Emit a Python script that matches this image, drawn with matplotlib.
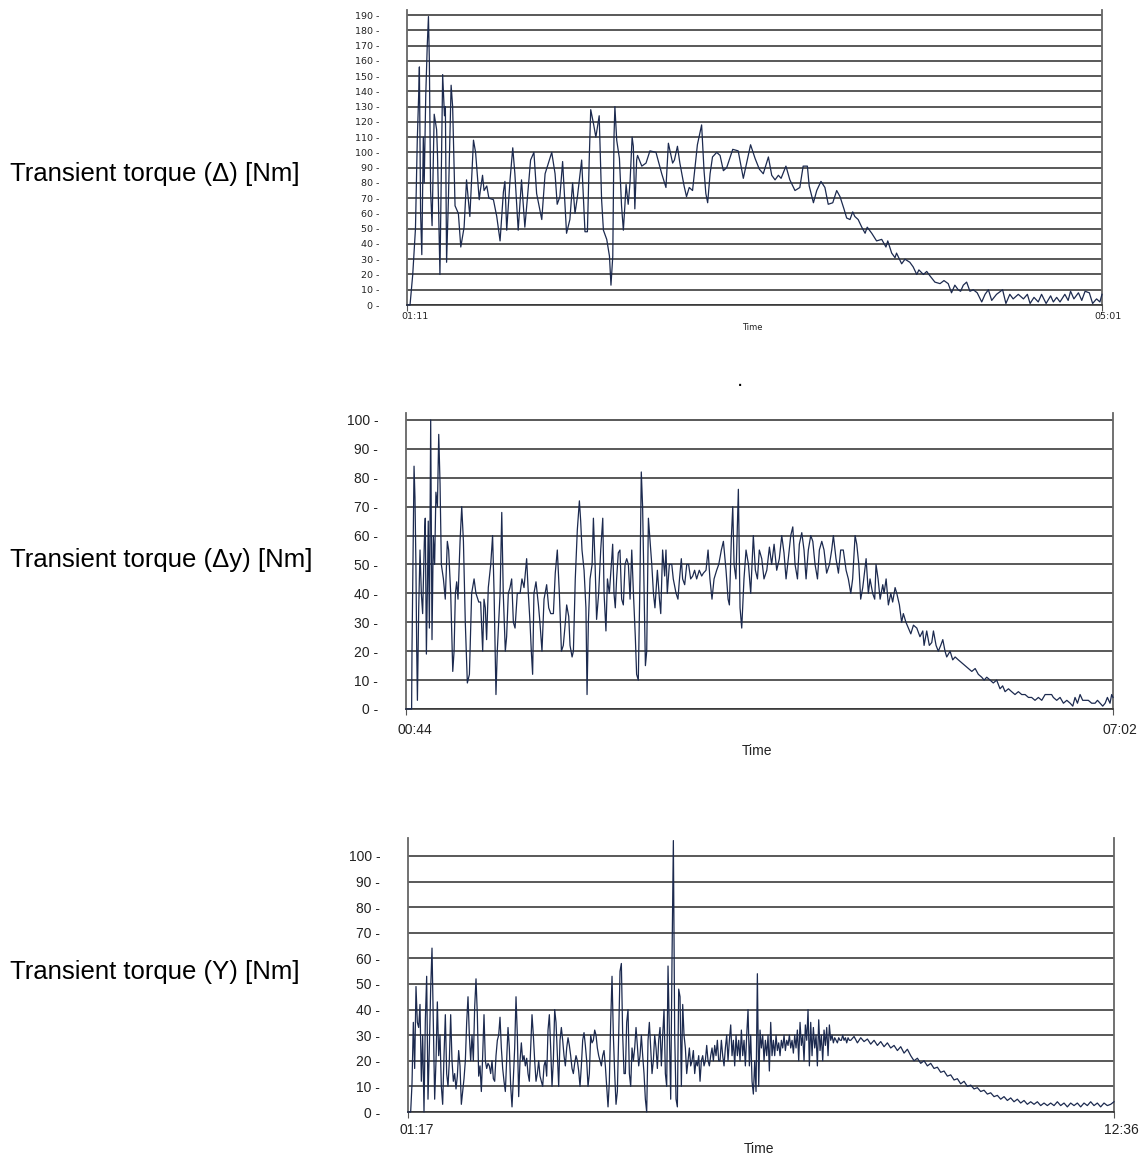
import numpy as np
import matplotlib.pyplot as plt

# ---- data (time in s, torque in Nm) ----
p1_t = [71.0, 72.0, 72.9, 73.8, 74.4, 74.9, 75.1, 75.5, 75.9, 76.4,
        76.7, 77.2, 77.7, 78.1, 78.4, 78.8, 79.3, 80.0, 80.8, 81.1,
        81.9, 82.8, 83.4, 83.7, 84.1, 84.7, 85.6, 86.1, 86.9, 88.0,
        88.8, 89.9, 90.7, 91.3, 91.8, 93.0, 93.7, 94.9, 95.2, 96.0,
        96.5, 97.4, 98.1, 99.6, 100.7, 101.8, 102.9, 103.4, 104.0, 105.1,
        106.0, 106.7, 107.8, 108.9, 110.0, 110.8, 111.9, 113.0, 113.9, 115.6,
        116.7, 117.8, 118.9, 120.0, 120.7, 121.6, 122.5, 123.8, 124.9, 125.8,
        126.6, 127.4, 128.8, 129.9, 130.7, 131.3, 131.8, 132.7, 133.5, 134.6,
        135.4, 136.0, 137.1, 138.0, 138.5, 139.1, 139.5, 139.8, 140.4, 141.3,
        142.0, 142.6, 143.1, 143.5, 144.2, 144.8, 145.5, 145.9, 146.4, 147.0,
        147.3, 148.7, 150.1, 151.4, 153.4, 155.3, 156.7, 157.5, 158.9, 159.5,
        160.5, 161.3, 162.7, 163.5, 164.4, 165.5, 167.1, 168.5, 169.3, 169.9,
        170.5, 171.3, 172.1, 173.5, 174.6,
        175.7, 176.8, 178.8, 180.6, 182.3, 183.6, 184.7, 186.2, 187.6, 188.9,
        190.6, 191.7, 192.8, 193.9, 194.8, 196.4, 197.7, 199.4, 201.0, 202.1,
        203.5, 204.1, 205.5, 206.6, 208.0, 209.3, 210.4, 211.9, 213.2, 214.3,
        215.6, 216.5, 217.6, 218.5, 219.2, 220.3, 221.5, 222.6, 223.3, 224.8,
        226.4, 228.1, 229.5, 230.1, 231.4, 232.5, 233.0, 234.7, 235.8, 237.4,
        238.5, 239.7, 240.4, 241.9, 243.0, 244.1, 245.7, 247.4, 248.7, 250.1,
        251.2, 252.3, 253.4, 254.2, 255.1, 256.2, 257.3, 258.4, 259.7, 261.2,
        262.3, 263.4, 264.5, 266.1, 268.1, 269.2, 270.5, 271.6, 273.3, 275.0,
        276.3, 277.2, 278.5, 279.9, 281.0, 282.5, 284.0, 284.9, 286.0, 287.1,
        288.7, 289.8, 290.6, 291.7, 293.2, 294.3, 295.4, 296.8, 297.9, 299.2,
        300.3, 301.0]
p1_v = [0, 0, 20, 50, 108, 140, 156, 60, 33, 110,
        80, 137, 170, 189, 160, 75, 52, 125, 115, 98,
        20, 151, 124, 130, 28, 69, 144, 130, 65, 60,
        38, 51, 82, 69, 58, 108, 100, 69, 74, 85,
        75, 78, 70, 69, 58, 42, 74, 81, 49, 82,
        103, 86, 49, 82, 51, 69, 95, 100, 73, 56,
        86, 93, 100, 86, 66, 71, 94, 47, 56, 80,
        60, 71, 95, 48, 48, 95, 128, 119, 110, 124,
        69, 49, 43, 32, 13, 32, 110, 130, 108, 96,
        65, 49, 65, 79, 66, 80, 110, 104, 63, 95,
        98, 91, 93, 101, 100, 86, 77, 106, 93, 95,
        104, 93, 78, 71, 77, 75, 105, 118, 88, 73,
        67, 86, 97, 100, 98,
        88, 90, 102, 101, 83, 95, 105, 96, 89, 86,
        97, 85, 82, 85, 83, 91, 82, 75, 77, 91,
        91, 78, 67, 75, 81, 77, 66, 67, 75, 71,
        63, 57, 56, 61, 58, 56, 51, 47, 51, 47,
        42, 43, 38, 42, 34, 31, 34, 27, 30, 28,
        25, 20, 23, 20, 22, 19, 15, 14, 16, 14,
        8, 13, 10, 9, 13, 15, 9, 10, 8, 2,
        7, 10, 3, 7, 10, 1, 7, 4, 7, 4,
        7, 1, 5, 2, 7, 1, 6, 2, 5, 2,
        7, 3, 9, 4, 8, 3, 9, 8, 1, 4,
        2, 7]

p2_t = [44.0, 47.0, 47.2, 48.3, 48.8, 49.3, 49.7, 50.1, 50.8, 51.5,
        52.2, 52.9, 53.8, 54.3, 54.9, 55.4, 55.9, 56.5, 57.2, 57.9,
        58.6, 59.3, 60.0, 60.8, 61.5, 62.2, 62.9, 64.0, 65.0, 66.1,
        66.8, 67.9, 69.0, 69.7, 70.4, 71.1, 71.8, 72.9, 73.8, 74.7,
        75.7, 76.8, 77.9, 79.1, 80.4, 81.4, 82.9, 83.9, 85.0, 85.7,
        86.4, 87.1, 88.0, 89.3, 90.3, 91.1, 92.1, 92.8, 94.3, 95.2,
        96.0, 97.1, 97.8, 98.7, 99.6, 100.5, 101.4, 102.3, 103.5, 105.0,
        106.0, 107.1, 108.5, 109.4, 110.3, 111.0, 111.7, 112.4, 113.5, 114.8,
        115.6, 116.7, 117.8, 119.2, 120.3, 121.4, 122.8, 123.8, 124.9, 126.0,
        127.1, 128.1, 129.2, 129.9, 131.0, 131.7, 132.8, 133.5, 134.5, 135.6,
        136.7, 137.4, 138.1, 139.2, 140.2, 140.8, 141.5, 142.4, 143.5, 144.2,
        145.1, 145.9, 147.0, 148.1, 149.2, 149.9, 150.9, 151.7, 152.7, 153.8,
        154.5, 155.2, 155.9, 156.6, 157.5, 158.4, 159.3, 160.2, 161.1, 162.0,
        162.9, 163.8, 164.7, 165.6, 166.6, 167.3, 168.2, 169.1, 169.8, 170.5,
        171.3, 172.0, 172.7, 173.6, 174.5, 175.4, 176.3, 177.1, 178.4, 179.5,
        180.2, 181.2, 182.3, 183.0, 183.7, 184.8, 186.1, 186.9, 188.4, 189.4,
        190.1, 191.2, 191.9, 193.0, 194.1, 195.1, 196.2, 197.3, 198.3, 199.4,
        200.8, 202.1, 203.0, 204.4, 205.5, 206.5, 207.6, 208.7, 210.1, 211.2,
        212.6, 213.7, 215.1, 216.2, 216.9, 218.0, 218.7, 219.4, 220.4, 221.7,
        222.6, 223.5, 224.7, 225.8, 227.1, 228.3, 229.7, 230.8, 231.9, 232.9,
        234.2, 235.4, 236.9, 238.3, 239.5, 240.8, 242.2, 243.6, 244.9, 246.1,
        247.2, 248.4, 249.7, 250.8, 252.0, 253.3, 254.3, 255.6, 256.8, 257.9,
        259.1, 260.4, 261.5, 262.7, 264.0, 265.0, 266.3, 267.5, 268.9, 270.4,
        271.6, 272.5, 273.9, 275.2, 276.4, 277.8, 279.3, 280.5, 281.8, 282.8,
        284.1, 285.0, 286.1, 287.1, 288.2, 288.9, 290.0, 291.2, 292.1, 293.5,
        294.6, 295.3, 296.4, 297.5, 298.9, 299.6, 300.7, 301.9, 303.2, 304.2,
        305.5, 306.4, 307.8, 309.0, 309.9, 311.3, 312.6, 313.9, 315.3, 317.1,
        318.8, 320.3, 321.0, 322.4, 323.8, 325.1, 326.0, 327.4, 328.6, 329.9,
        331.0, 332.2, 333.1, 334.9, 336.3, 337.6, 339.3, 341.1, 342.9, 344.7,
        346.5, 348.3, 350.0, 351.8, 353.1, 354.5, 356.3, 358.0, 359.8, 361.6,
        363.0, 364.3, 366.1, 367.8, 369.6, 371.4, 373.2, 375.0, 376.8, 378.5,
        380.3, 382.1, 383.9, 385.7, 387.5, 389.2, 390.1, 391.9, 393.7, 395.5,
        397.3, 399.1, 400.5, 401.7, 403.0, 404.4, 405.8, 407.1, 408.8, 410.6,
        412.4, 413.7, 415.1, 416.5, 417.8, 419.0, 420.4, 421.3, 422.0]
p2_v = [0, 0, 20, 84, 73, 50, 22, 3, 35, 55,
        40, 33, 58, 66, 19, 40, 65, 28, 100, 24,
        60, 50, 75, 70, 95, 78, 50, 45, 38, 58,
        55, 40, 13, 20, 40, 44, 38, 58, 70, 58,
        30, 9, 12, 40, 45, 40, 37, 37, 20, 38,
        35, 24, 42, 50, 60, 40, 5, 20, 40, 68,
        40, 20, 25, 40, 42, 45, 30, 28, 40, 40,
        45, 42, 52, 40, 30, 20, 12, 40, 44, 36,
        30, 20, 38, 43, 35, 33, 33, 47, 55, 40,
        20, 22, 30, 36, 32, 22, 18, 20, 45, 62,
        72, 65, 55, 48, 35, 5, 30, 45, 50, 66,
        50, 31, 40, 55, 66, 40, 27, 45, 40, 50,
        57, 40, 35, 45, 54, 55, 38, 36, 50, 52,
        50, 38, 55, 40, 25, 12, 10, 45, 82, 70,
        40, 15, 20, 66, 58, 50, 40, 35, 48, 38,
        33, 55, 46, 55, 40, 50, 50, 45, 40, 38,
        44, 52, 45, 43, 50, 50, 45, 46, 48, 45,
        48, 46, 47, 48, 55, 45, 38, 45, 48, 50,
        55, 58, 48, 38, 36, 60, 70, 50, 45, 76,
        35, 28, 45, 55, 50, 40, 60, 48, 45, 55,
        52, 45, 48, 56, 50, 57, 48, 52, 60, 54,
        45, 52, 60, 63, 50, 45, 57, 61, 55, 45,
        55, 60, 58, 50, 45, 55, 58, 55, 47, 50,
        55, 60, 52, 47, 55, 55, 48, 45, 40, 45,
        60, 57, 50, 38, 42, 46, 52, 40, 45, 40,
        38, 50, 45, 38, 43, 40, 45, 36, 40, 37,
        42, 40, 36, 30, 33, 30, 28, 26, 29, 28,
        25, 27, 22, 27, 22, 23, 27, 22, 20, 22,
        24, 20, 18, 20, 17, 18, 17, 16, 15, 14,
        13, 14, 12, 11, 10, 11, 10, 9, 10, 7,
        8, 6, 7, 6, 5, 6, 5, 5, 4, 4,
        3, 4, 3, 5, 5, 5, 4, 3, 4, 2,
        3, 2, 1, 4, 2, 5, 3, 3, 3, 2,
        2, 3, 2, 1, 2, 4, 2, 5, 4]

# panel 3 is sampled evenly: a busy part (77 s .. 501.5 s) and a calm tail (502.8 s .. 756 s)
p3_busy_span = (77.0, 501.5)
p3_busy_v = [0, 0, 0, 11, 35, 17, 49, 35, 33, 42,
             12, 30, 0, 36, 53, 5, 25, 48, 64, 35,
             5, 20, 43, 22, 30, 10, 3, 22, 38, 15,
             10, 20, 38, 20, 12, 15, 9, 14, 24, 18,
             3, 8, 13, 20, 35, 45, 30, 20, 30, 20,
             41, 52, 38, 14, 18, 8, 22, 38, 20, 17,
             19, 18, 15, 20, 13, 12, 22, 28, 30, 37,
             25, 17, 12, 8, 20, 33, 25, 10, 2, 13,
             25, 45, 30, 6, 20, 27, 20, 22, 18, 21,
             15, 12, 25, 38, 30, 20, 12, 15, 20, 14,
             12, 10, 18, 20, 14, 32, 38, 25, 10, 20,
             40, 35, 22, 10,
             28, 33, 28, 22, 18, 25, 29, 26, 22, 17,
             15, 19, 22, 20, 16, 10, 18, 28, 31, 26,
             20, 10, 15, 30, 27, 28, 32, 30, 25, 22,
             20, 18, 22, 24, 18, 10, 2, 12, 35, 53,
             30, 15, 3, 8, 30, 55, 58, 30, 15, 15,
             35, 40, 15, 10, 25, 20, 25, 33, 26, 18,
             22, 30, 22, 15, 5, 0, 28, 35, 25, 15,
             20, 30, 25, 17, 28, 33, 18, 30, 40, 15,
             10, 57, 30, 5, 60, 106, 30, 5, 2, 48,
             45, 10, 42, 30, 25, 15, 20, 25, 18, 20,
             24, 15, 20, 18, 22, 12, 20, 22, 18, 20,
             26, 20, 18, 22, 25, 20, 26, 22, 28, 20,
             20, 28, 22, 18, 25, 30, 20, 28, 34, 22,
             28, 18, 30, 22, 28, 20, 32, 22, 28, 18,
             30, 40, 18, 30, 12, 7, 20, 8, 54, 10,
             32, 25, 30, 20, 28, 22, 30, 16, 35, 22,
             28, 22, 30, 24, 27, 22, 28, 25, 30, 24,
             28, 26, 30, 25, 28, 23, 30, 25, 32, 20,
             35, 26, 30, 20, 34, 28, 40, 18, 35, 22,
             33, 25, 30, 18, 36, 24, 30, 20, 32, 26,
             33, 22, 34, 28, 30, 27, 29, 28, 27, 29,
             28, 28, 30, 28, 29, 27, 29, 28]
p3_tail_span = (502.8, 756.0)
p3_tail_v = [28, 29.5, 27, 29, 27.5, 28.5, 26.5, 28, 26, 27.5,
             25.5, 27, 25, 26, 24, 25.5, 23, 24.5, 22, 20,
             21, 19, 20, 18, 19, 17, 17.5, 15.5, 16, 14,
             14.5, 12.5, 13, 11, 12, 10, 10.5, 9, 9.5, 8,
             8.5, 7, 7.5, 6, 6.5, 5, 6, 4.5, 5.5, 4,
             5, 3.5, 4.5, 3, 4, 3, 4, 2.5, 3.5, 2.5,
             3.5, 2.5, 4, 2.5, 3.5, 2, 3.5, 2.5, 3.5, 2,
             3.5, 2.5, 4, 2.5, 3.5, 2, 3.5, 2.5, 3, 4]

titles = ["Transient torque (\u0394) [Nm]", "Transient torque (\u0394y) [Nm]",
          "Transient torque (Y) [Nm]"]
start_labels = ["01:11", "00:44", "01:17"]
end_labels = ["05:01", "07:02", "12:36"]
y_tops = [190, 100, 100]

p3_t = np.concatenate([np.linspace(*p3_busy_span, len(p3_busy_v)),
                       np.linspace(*p3_tail_span, len(p3_tail_v))])
p3_v = p3_busy_v + p3_tail_v
series = [(p1_t, p1_v), (p2_t, p2_v), (p3_t, p3_v)]

# ---- layout (pixels of the 1140 x 1155 canvas) ----
W, H = 1140, 1155
fig = plt.figure(figsize=(W / 100, H / 100), dpi=100)


def box(left, right, top, bottom):
    return [left / W, 1 - bottom / H, (right - left) / W, (bottom - top) / H]


boxes = [box(407, 1102, 10, 305), box(406, 1113, 413, 709), box(408, 1114, 838, 1112)]
ylims = [193.3, 102.4, 107]
title_y = [174, 560, 972]
time_xy = [(752, 328), (757, 751), (759, 1149)]
small = dict(family="DejaVu Sans", size=6.8)
narrow = dict(family=["Liberation Sans", "DejaVu Sans"], size=10)
tick_fonts = [small, narrow, narrow]
time_fonts = [dict(family="DejaVu Sans", size=6), narrow, narrow]
lab_off = [((8, -11), (6, -11)), ((9, -21), (7, -21)), ((9, -18), (25, -18))]
lab_ha = [("center", "center"), ("center", "center"), ("center", "right")]
line_col = "#1c2a4f"

for i, ax in enumerate([fig.add_axes(b) for b in boxes]):
    t, v = series[i]
    ax.plot(t, v, color=line_col, lw=0.9, zorder=3, clip_on=False)
    ax.set_xlim(t[0], t[-1])
    ax.set_ylim(0, ylims[i])

    yt = list(range(0, y_tops[i] + 1, 10))
    ax.set_yticks(yt)
    ax.set_yticklabels([f"{y} -" for y in yt], fontdict=tick_fonts[i], color="#222222")
    ax.tick_params(axis="y", length=0, pad=20)
    ax.yaxis.grid(True, color="#333333", lw=1.15)
    ax.set_axisbelow(True)

    ax.set_xticks([t[0], t[-1]])
    ax.set_xticklabels(["", ""])
    ax.tick_params(axis="x", length=4, width=0.8, color="#555555", direction="out")

    for side in ["left", "right"]:
        ax.spines[side].set_color("#666666")
        ax.spines[side].set_linewidth(1.3)
    ax.spines["top"].set_visible(False)
    ax.spines["bottom"].set_color("#333333")
    ax.spines["bottom"].set_linewidth(1.15)

    for x, lab, off, ha in zip([t[0], t[-1]], [start_labels[i], end_labels[i]], lab_off[i], lab_ha[i]):
        ax.annotate(lab, xy=(x, 0), xycoords=("data", "axes fraction"), xytext=off,
                    textcoords="offset pixels", ha=ha, va="center", color="#222222",
                    annotation_clip=False, **tick_fonts[i])

    tx, ty = time_xy[i]
    fig.text(tx / W, 1 - ty / H, "Time", ha="center", va="center", color="#222222", **time_fonts[i])
    fig.text(10 / W, 1 - title_y[i] / H, titles[i], ha="left", va="center",
             family="Liberation Sans", fontsize=18.5, color="black")

fig.text(740 / W, 1 - 380 / H, ".", ha="center", va="center", fontsize=14, color="black")

fig.savefig("out.png", dpi=100)
